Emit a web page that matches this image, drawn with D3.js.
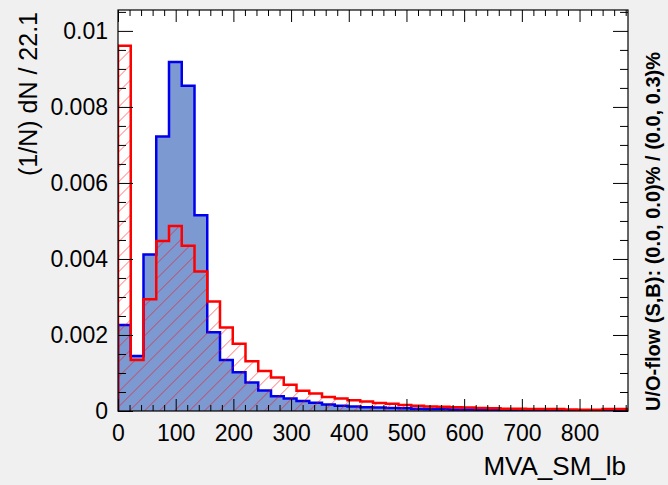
<!DOCTYPE html>
<html>
<head>
<meta charset="utf-8">
<script src="https://cdn.jsdelivr.net/npm/d3@7"></script>
<style>
  body { margin: 0; background: #f0f0f0; }
  svg { display: block; font-family: "Liberation Sans", Arial, sans-serif; }
</style>
</head>
<body>
<svg id="chart" width="668" height="485"></svg>
<script>
// bin contents, 40 bins of width 22.1
let binWidth = 22.1;
let signal = [
  0.00226, 0.00145, 0.00412, 0.00722, 0.00918, 0.00856, 0.00515, 0.00207,
  0.00134, 0.00102, 0.00075, 0.00054, 0.00039, 0.00033, 0.00026, 0.00022,
  0.00017, 0.00014, 0.00012, 0.00010, 0.00009, 0.00008, 0.00007, 0.00006,
  0.00005, 0.00005, 0.00004, 0.00004, 0.00003, 0.00002, 0.00001, 0.00001,
  0.00001, 0.00001, 0, 0, 0, 0, 0, 0
];
let background = [
  0.00961, 0.00134, 0.00294, 0.00447, 0.00487, 0.00435, 0.00367, 0.00288,
  0.00220, 0.00177, 0.00131, 0.00105, 0.00088, 0.00069, 0.00053, 0.00046,
  0.00037, 0.00033, 0.00028, 0.00025, 0.00021, 0.00019, 0.00016, 0.00014,
  0.00012, 0.00011, 0.00010, 0.00009, 0.00008, 0.00007, 0.00006, 0.00006,
  0.00005, 0.00005, 0.00005, 0.00004, 0.00003, 0.00003, 0.00005, 0.00005
];
let xTicks = [0, 100, 200, 300, 400, 500, 600, 700, 800];
let yTicks = [0, 0.002, 0.004, 0.006, 0.008, 0.01];

let xTitle = "MVA_SM_lb";
let yTitle = "(1/N) dN / 22.1";
let flowText = "U/O-flow (S,B): (0.0, 0.0)% / (0.0, 0.3)%";

let frame = { left: 118, top: 10, right: 628, bottom: 411 };
let xMax = binWidth * signal.length;

let svg = d3.select("#chart");

let x = d3.scaleLinear().domain([0, xMax]).range([frame.left, frame.right]);
let y = d3.scaleLinear().domain([0, 0.01055]).range([frame.bottom, frame.top]);

let defs = svg.append("defs");
defs.append("clipPath").attr("id", "frameClip")
  .append("rect")
  .attr("x", frame.left).attr("y", frame.top)
  .attr("width", frame.right - frame.left)
  .attr("height", frame.bottom - frame.top);

let hatch = defs.append("pattern")
  .attr("id", "hatch")
  .attr("patternUnits", "userSpaceOnUse")
  .attr("width", 10.6).attr("height", 10.6)
  .attr("patternTransform", "rotate(45)");
hatch.append("line")
  .attr("x1", 0).attr("y1", 0).attr("x2", 0).attr("y2", 10.6)
  .attr("stroke", "#ff0000").attr("stroke-width", 1.1).attr("stroke-opacity", 0.75);

// frame background
svg.append("rect")
  .attr("x", frame.left).attr("y", frame.top)
  .attr("width", frame.right - frame.left)
  .attr("height", frame.bottom - frame.top)
  .attr("fill", "#fff");

function histPoints(values) {
  let pts = [[0, 0]];
  values.forEach((v, i) => {
    pts.push([i * binWidth, v]);
    pts.push([(i + 1) * binWidth, v]);
  });
  pts.push([xMax, 0]);
  return pts;
}

let line = d3.line().x(d => x(d[0])).y(d => y(d[1]));

let plot = svg.append("g").attr("clip-path", "url(#frameClip)");

// signal
plot.append("path")
  .attr("d", line(histPoints(signal)))
  .attr("fill", "#7d99d1")
  .attr("stroke", "#0000ee")
  .attr("stroke-width", 2.5)
  .attr("stroke-linejoin", "miter");

// background
plot.append("path")
  .attr("d", line(histPoints(background)))
  .attr("fill", "url(#hatch)")
  .attr("stroke", "#ff0000")
  .attr("stroke-width", 2.5)
  .attr("stroke-linejoin", "miter");

// axes: ticks on all four sides, pointing inward
let xMinor = d3.range(0, xMax, 20).filter(v => v % 100 !== 0);
let yMinor = d3.range(0, 0.01055, 0.0005).filter(v => Math.abs(v / 0.002 - Math.round(v / 0.002)) > 1e-6);

function styleAxis(g) {
  g.select(".domain").remove();
  g.selectAll(".tick line").attr("stroke", "#000").attr("stroke-width", 1);
}

svg.append("g")
  .attr("transform", `translate(0,${frame.bottom})`)
  .call(d3.axisBottom(x).tickValues(xTicks).tickSize(-12).tickPadding(12).tickFormat(d3.format("d")))
  .call(styleAxis)
  .call(g => g.selectAll("text").attr("font-size", 23).attr("fill", "#000")
    .attr("dy", null).attr("y", 30));
svg.append("g")
  .attr("transform", `translate(0,${frame.bottom})`)
  .call(d3.axisBottom(x).tickValues(xMinor).tickSize(-6).tickFormat(""))
  .call(styleAxis);
svg.append("g")
  .attr("transform", `translate(0,${frame.top})`)
  .call(d3.axisTop(x).tickValues(xTicks).tickSize(-12).tickFormat(""))
  .call(styleAxis);
svg.append("g")
  .attr("transform", `translate(0,${frame.top})`)
  .call(d3.axisTop(x).tickValues(xMinor).tickSize(-6).tickFormat(""))
  .call(styleAxis);

svg.append("g")
  .attr("transform", `translate(${frame.left},0)`)
  .call(d3.axisLeft(y).tickValues(yTicks).tickSize(-15).tickPadding(10)
    .tickFormat(d => String(+d.toFixed(3))))
  .call(styleAxis)
  .call(g => g.selectAll("text").attr("font-size", 23).attr("fill", "#000"));
svg.append("g")
  .attr("transform", `translate(${frame.left},0)`)
  .call(d3.axisLeft(y).tickValues(yMinor).tickSize(-8).tickFormat(""))
  .call(styleAxis);
svg.append("g")
  .attr("transform", `translate(${frame.right},0)`)
  .call(d3.axisRight(y).tickValues(yTicks).tickSize(-15).tickFormat(""))
  .call(styleAxis);
svg.append("g")
  .attr("transform", `translate(${frame.right},0)`)
  .call(d3.axisRight(y).tickValues(yMinor).tickSize(-8).tickFormat(""))
  .call(styleAxis);

// frame border
svg.append("rect")
  .attr("x", frame.left).attr("y", frame.top)
  .attr("width", frame.right - frame.left)
  .attr("height", frame.bottom - frame.top)
  .attr("fill", "none")
  .attr("stroke", "#000")
  .attr("stroke-width", 1.2);

// titles
svg.append("text")
  .attr("x", frame.right - 2).attr("y", 475)
  .attr("text-anchor", "end")
  .attr("font-size", 26)
  .text(xTitle);

svg.append("text")
  .attr("transform", `translate(37,${frame.top + 2}) rotate(-90)`)
  .attr("text-anchor", "end")
  .attr("font-size", 25)
  .text(yTitle);

svg.append("text")
  .attr("transform", `translate(660,${frame.bottom}) rotate(-90)`)
  .attr("text-anchor", "start")
  .attr("font-size", 20)
  .attr("font-weight", "bold")
  .text(flowText);
</script>
</body>
</html>
